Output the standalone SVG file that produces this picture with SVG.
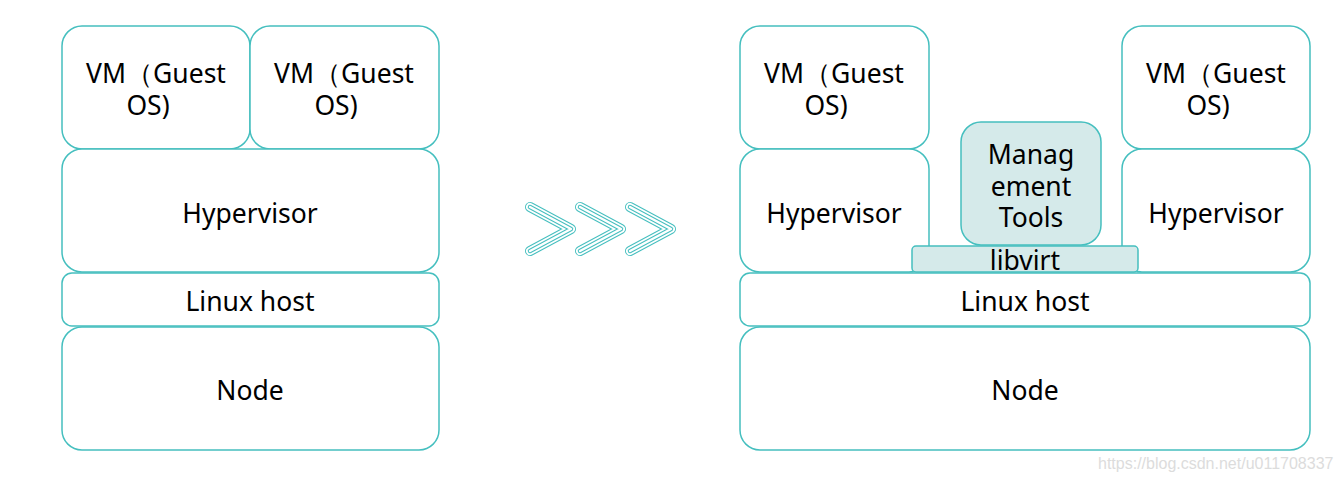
<svg xmlns="http://www.w3.org/2000/svg" width="1342" height="482" viewBox="0 0 1342 482">
<defs>
<style>
.box{fill:#ffffff;stroke:#45bfbf;stroke-width:1.5}
.fill{fill:#d5eaea;stroke:#45bfbf;stroke-width:1.5}
.t{font-family:"Noto Sans","Open Sans",sans-serif;font-size:26.5px;fill:#000;text-anchor:middle}
.wm{font-family:"Liberation Sans",Arial,sans-serif;font-size:16px;fill:#dcdcdc}
.c1{fill:none;stroke:#45bfbf;stroke-width:10;stroke-linecap:round;stroke-linejoin:round}
.c2{fill:none;stroke:#ffffff;stroke-width:8;stroke-linecap:round;stroke-linejoin:round}
.c3{fill:none;stroke:#45bfbf;stroke-width:4.5;stroke-linecap:round;stroke-linejoin:round}
.c4{fill:none;stroke:#ffffff;stroke-width:2.5;stroke-linecap:round;stroke-linejoin:round}
</style>
<g id="chev">
<polyline class="c1" points="0,0 41,22 0,44"/>
<polyline class="c2" points="0,0 41,22 0,44"/>
<polyline class="c3" points="0,0 41,22 0,44"/>
<polyline class="c4" points="0,0 41,22 0,44"/>
</g>
</defs>
<rect width="1342" height="482" fill="#ffffff"/>
<!-- Left stack -->
<g id="l-vm1"><rect class="box" x="62" y="26" width="188" height="123" rx="20"/><text class="t" x="156" y="83">VM（Guest</text><text class="t" x="148" y="115">OS)</text></g>
<g id="l-vm2"><rect class="box" x="250" y="26" width="189" height="123" rx="20"/><text class="t" x="344" y="83">VM（Guest</text><text class="t" x="336" y="115">OS)</text></g>
<g id="l-hyp"><rect class="box" x="62" y="149" width="377" height="123" rx="20"/><text class="t" x="250" y="223">Hypervisor</text></g>
<g id="l-linux"><rect class="box" x="62" y="273" width="377" height="53" rx="10"/><text class="t" x="250" y="311">Linux host</text></g>
<g id="l-node"><rect class="box" x="62" y="327" width="377" height="123" rx="20"/><text class="t" x="250" y="400">Node</text></g>
<!-- arrows -->
<g id="arrows">
<use href="#chev" x="530" y="207"/>
<use href="#chev" x="580" y="207"/>
<use href="#chev" x="630" y="207"/>
</g>
<!-- Right stack -->
<g id="r-vm1"><rect class="box" x="740" y="26" width="189" height="123" rx="20"/><text class="t" x="834" y="83">VM（Guest</text><text class="t" x="826" y="115">OS)</text></g>
<g id="r-hyp1"><rect class="box" x="740" y="149" width="189" height="123" rx="20"/><text class="t" x="834" y="223">Hypervisor</text></g>
<g id="r-vm2"><rect class="box" x="1122" y="26" width="188" height="123" rx="20"/><text class="t" x="1216" y="83">VM（Guest</text><text class="t" x="1208" y="115">OS)</text></g>
<g id="r-hyp2"><rect class="box" x="1122" y="149" width="188" height="123" rx="20"/><text class="t" x="1216" y="223">Hypervisor</text></g>
<g id="r-linux"><rect class="box" x="740" y="273" width="570" height="53" rx="10"/><text class="t" x="1025" y="311">Linux host</text></g>
<g id="r-node"><rect class="box" x="740" y="327" width="570" height="123" rx="20"/><text class="t" x="1025" y="400">Node</text></g>
<g id="r-mgmt"><rect class="fill" x="961" y="122" width="140" height="123" rx="20"/><text class="t" x="1031" y="164">Manag</text><text class="t" x="1031" y="196">ement</text><text class="t" x="1031" y="227">Tools</text></g>
<g id="r-libvirt"><rect class="fill" x="912" y="246" width="226" height="26" rx="4"/><text class="t" x="1025" y="270">libvirt</text></g>
<text class="wm" x="1098" y="469">https://blog.csdn.net/u011708337</text>
</svg>
